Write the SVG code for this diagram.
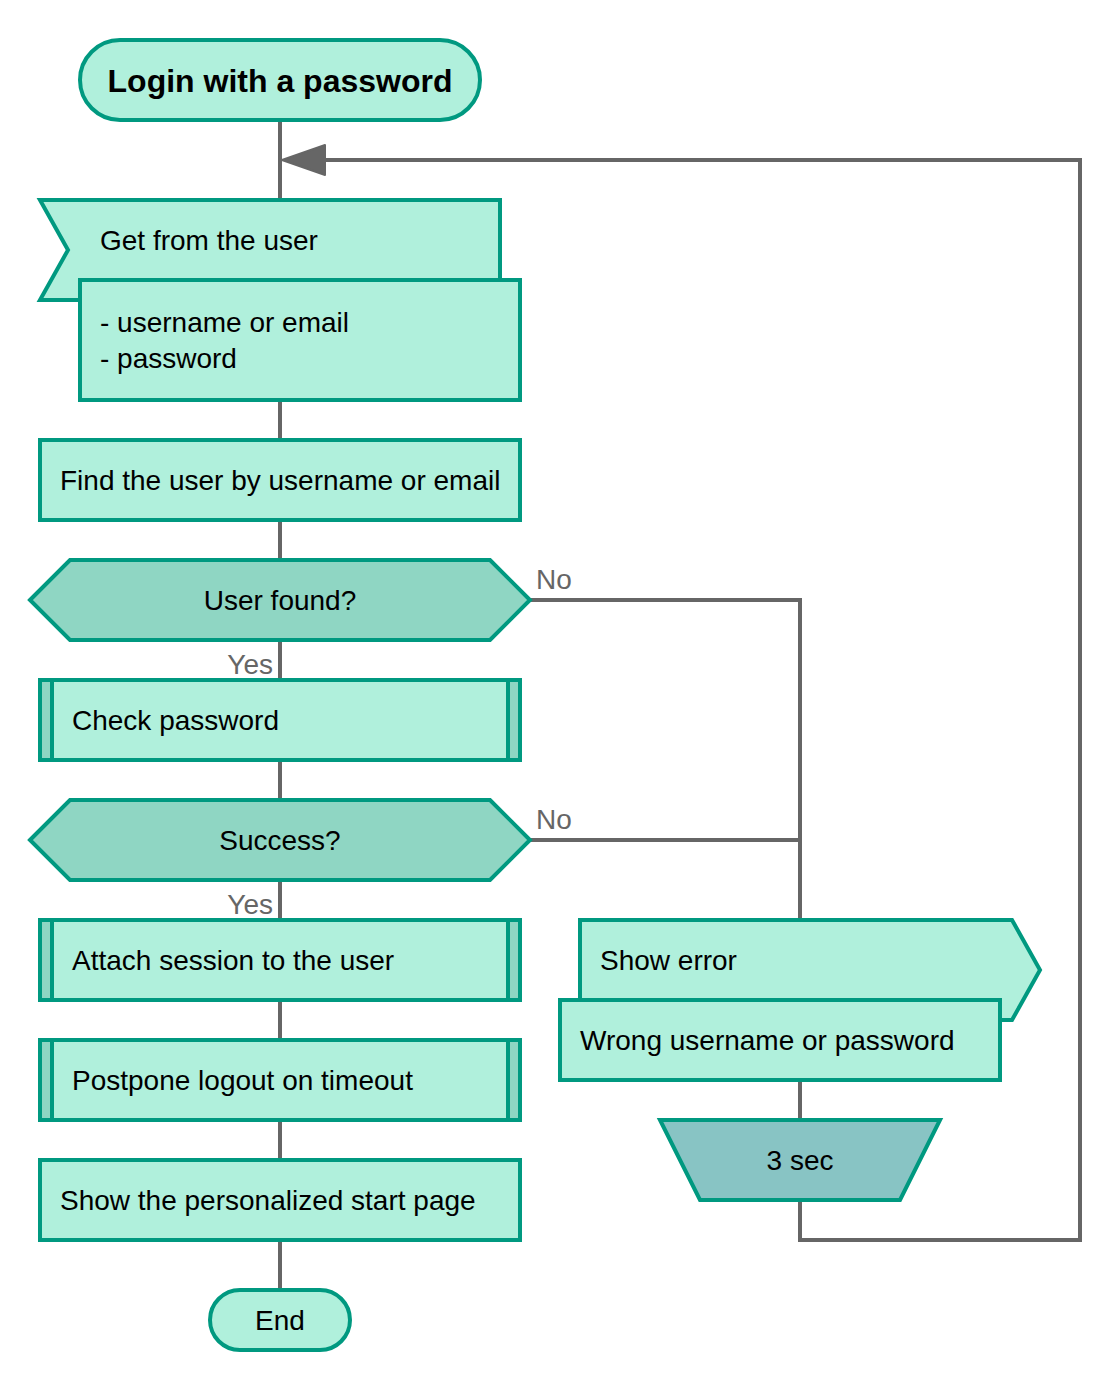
<svg xmlns="http://www.w3.org/2000/svg" width="1120" height="1400" viewBox="0 0 1120 1400">
<style>
.n{fill:#b0f0dc;stroke:#009980;stroke-width:4}
.d{fill:#8fd6c3;stroke:#009980;stroke-width:4}
.w{fill:#88c4c4;stroke:#009980;stroke-width:4}
.c{fill:none;stroke:#666;stroke-width:4}
text{font-family:"Liberation Sans",Arial,sans-serif;font-size:28px;fill:#000}
.m{text-anchor:middle}
.l{fill:#666}
.t{font-weight:bold;font-size:32px}
</style>
<rect width="1120" height="1400" fill="#fff"/>
<g id="connectors">
<path class="c" d="M280 120V1290"/>
<path class="c" d="M530 600H800V920"/>
<path class="c" d="M530 840H800"/>
<path class="c" d="M800 1080V1120"/>
<path class="c" d="M800 1200V1240H1080V160H324"/>
<path d="M282 160L325 145V175Z" fill="#666" stroke="#666" stroke-width="2" stroke-linejoin="round"/>
<text class="l" x="536" y="589">No</text>
<text class="l" x="536" y="829">No</text>
<text class="l" x="273" y="674" text-anchor="end">Yes</text>
<text class="l" x="273" y="914" text-anchor="end">Yes</text>
</g>
<g id="start">
<rect class="n" x="80" y="40" width="400" height="80" rx="40"/>
<text class="m t" x="280" y="92">Login with a password</text>
</g>
<g id="get">
<path class="n" d="M40 200H500V300H40L68 250Z"/>
<text x="100" y="250">Get from the user</text>
<rect class="n" x="80" y="280" width="440" height="120"/>
<text x="100" y="332">- username or email</text>
<text x="100" y="368">- password</text>
</g>
<g id="find">
<rect class="n" x="40" y="440" width="480" height="80"/>
<text x="60" y="490">Find the user by username or email</text>
</g>
<g id="userfound">
<path class="d" d="M30 600L70 560H490L530 600L490 640H70Z"/>
<text class="m" x="280" y="610">User found?</text>
</g>
<g id="check">
<rect class="d" x="40" y="680" width="480" height="80"/>
<rect class="n" x="52" y="680" width="456" height="80"/>
<text x="72" y="730">Check password</text>
</g>
<g id="success">
<path class="d" d="M30 840L70 800H490L530 840L490 880H70Z"/>
<text class="m" x="280" y="850">Success?</text>
</g>
<g id="attach">
<rect class="d" x="40" y="920" width="480" height="80"/>
<rect class="n" x="52" y="920" width="456" height="80"/>
<text x="72" y="970">Attach session to the user</text>
</g>
<g id="postpone">
<rect class="d" x="40" y="1040" width="480" height="80"/>
<rect class="n" x="52" y="1040" width="456" height="80"/>
<text x="72" y="1090">Postpone logout on timeout</text>
</g>
<g id="show">
<rect class="n" x="40" y="1160" width="480" height="80"/>
<text x="60" y="1210">Show the personalized start page</text>
</g>
<g id="end">
<rect class="n" x="210" y="1290" width="140" height="60" rx="30"/>
<text class="m" x="280" y="1330">End</text>
</g>
<g id="error">
<path class="n" d="M580 920H1012L1040 970L1012 1020H580Z"/>
<text x="600" y="970">Show error</text>
<rect class="n" x="560" y="1000" width="440" height="80"/>
<text x="580" y="1050">Wrong username or password</text>
</g>
<g id="wait">
<path class="w" d="M660 1120H940L900 1200H700Z"/>
<text class="m" x="800" y="1170">3 sec</text>
</g>
</svg>
